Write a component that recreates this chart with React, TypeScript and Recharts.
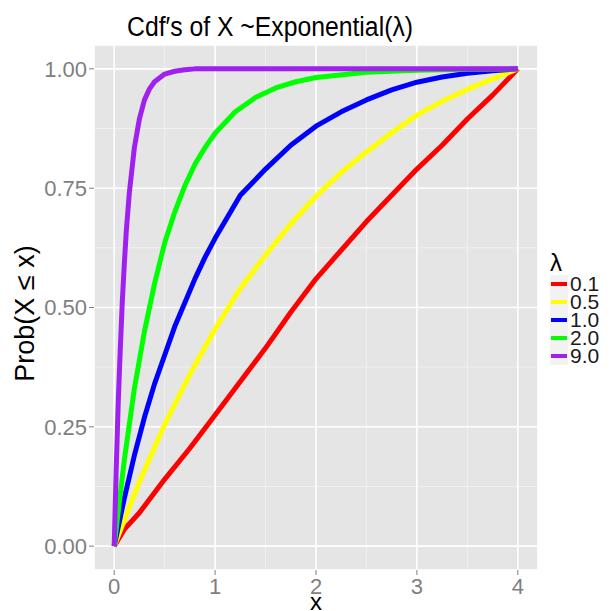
import { LineChart, Line, XAxis, YAxis, CartesianGrid, Label } from 'recharts';

// values
const LAMBDAS = ['0.1', '0.5', '1.0', '2.0', '9.0'];
const COLORS = ['#FF0000', '#FFFF00', '#0000FF', '#00FF00', '#A020F0'];

const X_TICKS = [0, 1, 2, 3, 4];
const Y_TICKS = [0, 0.25, 0.5, 0.75, 1];
const X_MINOR = [0.5, 1.5, 2.5, 3.5];
const Y_MINOR = [0.125, 0.375, 0.625, 0.875];

const X_01 = [0, 0.1, 0.25, 0.5, 0.75, 1.0, 1.25, 1.5, 1.75, 2.0, 2.25, 2.5, 2.75, 3.0, 3.25, 3.5, 3.75, 4.0];
const Y_01 = [0, 0.035, 0.07, 0.14, 0.205, 0.275, 0.345, 0.415, 0.49, 0.56, 0.62, 0.68, 0.735, 0.79, 0.84, 0.895, 0.945, 1.0];

const X_05 = [0, 0.25, 0.5, 0.75, 1.0, 1.25, 1.5, 1.75, 2.0, 2.25, 2.5, 2.75, 3.0, 3.25, 3.5, 3.75, 4.0];
const Y_05 = [0, 0.135, 0.255, 0.36, 0.455, 0.54, 0.61, 0.675, 0.733, 0.783, 0.826, 0.866, 0.903, 0.932, 0.957, 0.979, 1.0];

const X_10 = [0, 0.1, 0.2, 0.3, 0.4, 0.5, 0.6, 0.7, 0.8, 0.9, 1.0, 1.25, 1.5, 1.75, 2.0, 2.25, 2.5, 2.75, 3.0, 3.25, 3.5, 3.75, 4.0];
const Y_10 = [0, 0.1, 0.19, 0.27, 0.34, 0.4, 0.46, 0.51, 0.56, 0.605, 0.645, 0.735, 0.79, 0.84, 0.88, 0.91, 0.935, 0.956, 0.972, 0.983, 0.991, 0.996, 1.0];

const X_20 = [0, 0.1, 0.2, 0.3, 0.4, 0.5, 0.6, 0.7, 0.8, 0.9, 1.0, 1.2, 1.4, 1.6, 1.8, 2.0, 2.5, 3.0, 3.5, 4.0];
const Y_20 = [0, 0.18, 0.33, 0.45, 0.55, 0.635, 0.7, 0.755, 0.8, 0.835, 0.865, 0.91, 0.94, 0.96, 0.973, 0.982, 0.993, 0.997, 0.999, 1.0];

const X_90 = [0, 0.02, 0.04, 0.06, 0.08, 0.1, 0.12, 0.15, 0.2, 0.25, 0.3, 0.35, 0.4, 0.5, 0.6, 0.7, 0.8, 1.0, 2.0, 3.0, 4.0];
const Y_90 = [0, 0.16, 0.3, 0.41, 0.51, 0.59, 0.66, 0.74, 0.835, 0.895, 0.935, 0.958, 0.973, 0.989, 0.995, 0.998, 1, 1, 1, 1, 1];

const SERIES_X = [X_01, X_05, X_10, X_20, X_90];
const SERIES_Y = [Y_01, Y_05, Y_10, Y_20, Y_90];

const FONT = '"Liberation Sans", Arial, Helvetica, sans-serif';
const TICK_GREY = '#7F7F7F';

function toRows(xs: number[], ys: number[]) {
  return xs.map((x, i) => ({ x, y: ys[i] }));
}

function YTitle(props: any) {
  const { viewBox } = props;
  const cy = viewBox.y + viewBox.height / 2;
  return (
    <text
      transform={`translate(34, ${cy + 6}) rotate(-90)`}
      textAnchor="middle"
      fontSize={27}
      fontFamily={FONT}
      fill="#000"
    >
      {'Prob(X \u2264 x)'}
    </text>
  );
}

function LegendBox() {
  return (
    <div style={{ position: 'absolute', left: 550, top: 250, fontFamily: FONT }}>
      <div style={{ fontSize: 24, lineHeight: '25px', height: 25, color: '#000' }}>λ</div>
      {LAMBDAS.map((lab, i) => (
        <div key={lab} style={{ display: 'flex', alignItems: 'center', height: 18 }}>
          <div
            style={{
              width: 18,
              height: 18,
              background: '#F2F2F2',
              display: 'flex',
              alignItems: 'center',
              justifyContent: 'center',
            }}
          >
            <div style={{ width: 16, height: 4.5, background: COLORS[i] }} />
          </div>
          <div style={{ fontSize: 21, lineHeight: '18px', marginLeft: 2, color: '#1A1A1A' }}>{lab}</div>
        </div>
      ))}
    </div>
  );
}

export default function App() {
  return (
    <div style={{ position: 'absolute', left: 0, top: 0, width: 613, height: 611, background: '#fff' }}>
      <svg
        width={613}
        height={50}
        style={{ position: 'absolute', left: 0, top: 0, pointerEvents: 'none' }}
      >
        <text
          x={270}
          y={36}
          textAnchor="middle"
          fontSize={27}
          fontFamily={FONT}
          fill="#000"
          textLength={286}
          lengthAdjust="spacingAndGlyphs"
        >
          Cdf′s of X ~Exponential(λ)
        </text>
      </svg>
      <LineChart
        width={613}
        height={611}
        margin={{ top: 45, right: 75, bottom: 0, left: 0 }}
        style={{ fontFamily: FONT }}
      >
        <CartesianGrid
          fill="#E5E5E5"
          stroke="#F0F0F0"
          strokeWidth={1}
          horizontalValues={Y_MINOR}
          verticalValues={X_MINOR}
        />
        <CartesianGrid stroke="#FFFFFF" strokeWidth={1.6} />
        <XAxis
          type="number"
          dataKey="x"
          domain={[-0.2, 4.2]}
          ticks={X_TICKS}
          allowDataOverflow
          height={41}
          axisLine={false}
          tickSize={5}
          tickMargin={3}
          tickLine={{ stroke: TICK_GREY }}
          tick={{ fill: TICK_GREY, fontSize: 22, fontFamily: FONT }}
        >
          <Label value="x" position="insideBottom" offset={1} fontSize={24} fill="#000" fontFamily={FONT} />
        </XAxis>
        <YAxis
          type="number"
          domain={[-0.05, 1.05]}
          ticks={Y_TICKS}
          allowDataOverflow
          width={94}
          axisLine={false}
          tickSize={5}
          tickLine={{ stroke: TICK_GREY }}
          tickFormatter={(v: number) => v.toFixed(2)}
          tick={{ fill: TICK_GREY, fontSize: 22, fontFamily: FONT }}
        >
          <Label content={<YTitle />} />
        </YAxis>
        {SERIES_X.map((xs, i) => (
          <Line
            key={LAMBDAS[i]}
            data={toRows(xs, SERIES_Y[i])}
            dataKey="y"
            type="linear"
            stroke={COLORS[i]}
            strokeWidth={5}
            strokeLinejoin="round"
            dot={false}
            activeDot={false}
            isAnimationActive={false}
          />
        ))}
      </LineChart>
      <LegendBox />
    </div>
  );
}
